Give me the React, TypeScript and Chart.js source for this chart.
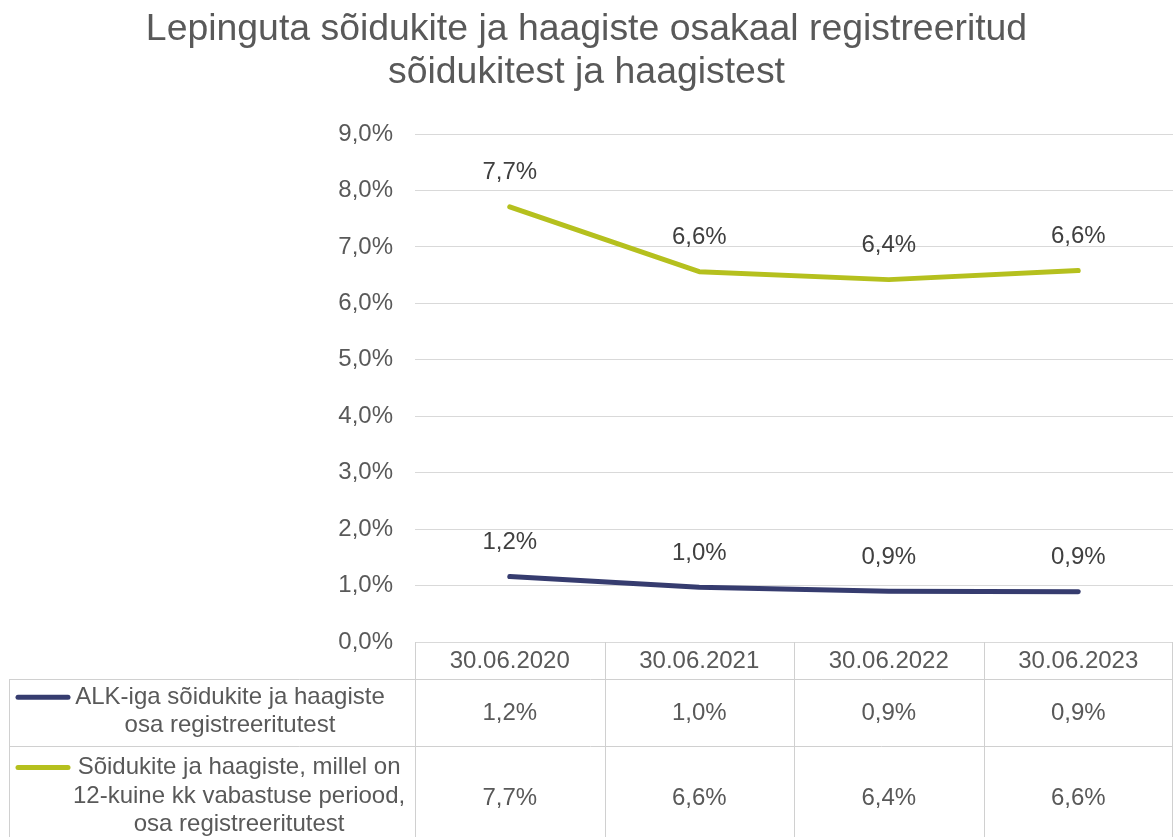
import React, { useEffect, useRef } from "react";
import { Chart, registerables } from "chart.js";

Chart.register(...registerables);

const TITLE_LINES = [
  "Lepinguta sõidukite ja haagiste osakaal registreeritud",
  "sõidukitest ja haagistest",
];
const CATEGORIES = ["30.06.2020", "30.06.2021", "30.06.2022", "30.06.2023"];
const ALK_VALUES = [1.16, 0.97, 0.9, 0.89];
const EXEMPT_VALUES = [7.71, 6.56, 6.42, 6.58];
const ALK_NAME_LINES = ["ALK-iga sõidukite ja haagiste", "osa registreeritutest"];
const EXEMPT_NAME_LINES = [
  "Sõidukite ja haagiste, millel on",
  "12-kuine kk vabastuse periood,",
  "osa registreeritutest",
];
const Y_TICKS = [0, 1, 2, 3, 4, 5, 6, 7, 8, 9];

const NAVY = "#363C6F";
const GREEN = "#B5C01E";
const TEXT = "#595959";
const LABEL = "#404040";
const GRID = "#D9D9D9";
const FONT = "'Liberation Sans', Arial, sans-serif";

const fmt = (v: number) => v.toFixed(1).replace(".", ",") + "%";

const dataLabelPlugin = {
  id: "dataLabels",
  afterDatasetsDraw(chart: any) {
    const { ctx } = chart;
    ctx.save();
    ctx.font = `24px ${FONT}`;
    ctx.fillStyle = LABEL;
    ctx.textAlign = "center";
    ctx.textBaseline = "middle";
    chart.data.datasets.forEach((ds: any, di: number) => {
      const meta = chart.getDatasetMeta(di);
      meta.data.forEach((pt: any, i: number) => {
        ctx.fillText(fmt(ds.data[i]), pt.x, pt.y - 34);
      });
    });
    ctx.restore();
  },
};

const tablePlugin = {
  id: "dataTable",
  afterDraw(chart: any) {
    const { ctx, chartArea, scales } = chart;
    const xs = scales.x;
    const top = chartArea.bottom;
    const h1 = top + 37;
    const h2 = h1 + 67;
    const bottom = chart.height;
    const L = 9;
    const right = chartArea.right - 1;
    const colW = (chartArea.right - chartArea.left) / CATEGORIES.length;

    ctx.save();
    ctx.strokeStyle = "#D0D0D0";
    ctx.lineWidth = 1;
    const hline = (x1: number, x2: number, y: number) => {
      ctx.beginPath();
      ctx.moveTo(x1, Math.round(y) + 0.5);
      ctx.lineTo(x2, Math.round(y) + 0.5);
      ctx.stroke();
    };
    const vline = (x: number, y1: number, y2: number) => {
      ctx.beginPath();
      ctx.moveTo(Math.round(x) + 0.5, y1);
      ctx.lineTo(Math.round(x) + 0.5, y2);
      ctx.stroke();
    };
    for (let i = 0; i <= CATEGORIES.length; i++) {
      const x = i === CATEGORIES.length ? right : chartArea.left + i * colW;
      vline(x, top, bottom);
    }
    vline(L, h1, bottom);
    hline(L, right, h1);
    hline(L, right, h2);

    ctx.font = `24px ${FONT}`;
    ctx.fillStyle = TEXT;
    ctx.textAlign = "center";
    ctx.textBaseline = "middle";
    CATEGORIES.forEach((c, i) => {
      ctx.fillText(c, xs.getPixelForValue(i), (top + h1) / 2 + 1);
    });

    const rows = [
      { lines: ALK_NAME_LINES, color: NAVY, values: ALK_VALUES, y0: h1, y1: h2 },
      { lines: EXEMPT_NAME_LINES, color: GREEN, values: EXEMPT_VALUES, y0: h2, y1: h2 + 102 },
    ];
    const lh = 28.5;
    rows.forEach((r) => {
      const cy = (r.y0 + r.y1) / 2;
      r.values.forEach((v, i) => {
        ctx.fillText(fmt(v), xs.getPixelForValue(i), cy + 1);
      });
      const maxW = Math.max(...r.lines.map((s) => ctx.measureText(s).width));
      const cx = Math.max(230, 73 + maxW / 2);
      const firstY = cy - ((r.lines.length - 1) * lh) / 2 - 1;
      r.lines.forEach((s, k) => {
        ctx.fillText(s, cx, firstY + k * lh);
      });
      ctx.save();
      ctx.strokeStyle = r.color;
      ctx.lineWidth = 5;
      ctx.lineCap = "round";
      ctx.beginPath();
      ctx.moveTo(18, firstY);
      ctx.lineTo(68, firstY);
      ctx.stroke();
      ctx.restore();
    });
    ctx.restore();
  },
};

export default function App() {
  const ref = useRef<HTMLCanvasElement | null>(null);
  useEffect(() => {
    if (!ref.current) return;
    const chart = new Chart(ref.current, {
      type: "line",
      data: {
        labels: CATEGORIES,
        datasets: [
          {
            label: ALK_NAME_LINES.join(" "),
            data: ALK_VALUES,
            borderColor: NAVY,
            backgroundColor: NAVY,
            borderWidth: 5,
            borderCapStyle: "round",
            borderJoinStyle: "round",
            pointRadius: 0,
            tension: 0,
          },
          {
            label: EXEMPT_NAME_LINES.join(" "),
            data: EXEMPT_VALUES,
            borderColor: GREEN,
            backgroundColor: GREEN,
            borderWidth: 5,
            borderCapStyle: "round",
            borderJoinStyle: "round",
            pointRadius: 0,
            tension: 0,
          },
        ],
      },
      options: {
        responsive: false,
        animation: false,
        layout: { padding: { left: 0, right: 0, top: 0, bottom: 195 } },
        plugins: {
          legend: { display: false },
          tooltip: { enabled: false },
          title: {
            display: true,
            text: TITLE_LINES,
            color: TEXT,
            font: { family: FONT, size: 37.4, weight: "normal", lineHeight: 43 / 37.4 },
            padding: { top: 8.5, bottom: 39.5 },
          },
        },
        scales: {
          x: {
            type: "category",
            offset: true,
            display: false,
          },
          y: {
            min: 0,
            max: 9,
            afterFit: (scale: any) => {
              scale.width = 415;
            },
            afterBuildTicks: (scale: any) => {
              scale.ticks = Y_TICKS.map((v) => ({ value: v }));
            },
            ticks: {
              color: TEXT,
              padding: 22,
              font: { family: FONT, size: 24 },
              callback: (v: any) => Number(v).toFixed(1).replace(".", ",") + "%",
            },
            grid: { color: GRID, lineWidth: 1, drawTicks: false },
            border: { display: false },
          },
        },
      },
      plugins: [dataLabelPlugin, tablePlugin],
    } as any);
    return () => chart.destroy();
  }, []);
  return (
    <div style={{ position: "fixed", left: 0, top: 0, width: 1173, height: 837, background: "#fff" }}>
      <canvas ref={ref} width={1173} height={837} style={{ display: "block" }} />
    </div>
  );
}
